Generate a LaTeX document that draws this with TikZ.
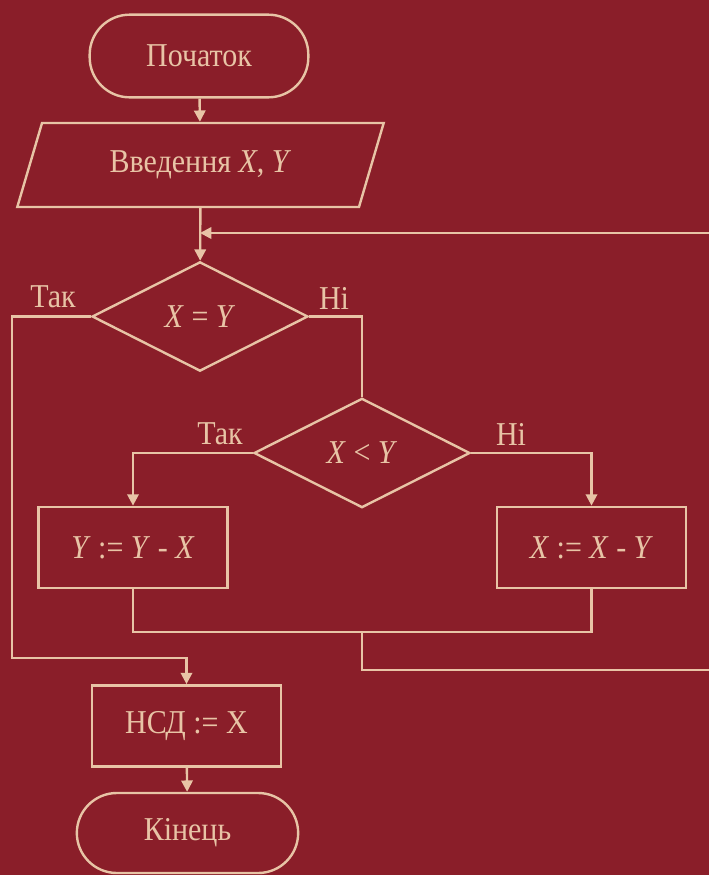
\documentclass[tikz,border=0pt]{standalone}
\usepackage{fontspec}
\setmainfont{Liberation Serif}[FakeStretch=0.9]
\usetikzlibrary{shapes.geometric,arrows.meta,calc}
\definecolor{bg}{HTML}{8A1E29}
\definecolor{ink}{HTML}{E8C4A6}
\begin{document}
\begin{tikzpicture}[x=0.75pt,y=-0.75pt,
  every node/.style={text=ink, font=\fontsize{25}{28}\selectfont},
  flow/.style={draw=ink, line width=1.8pt},
  conn/.style={draw=ink, line width=1.8pt},
  arr/.style={conn, -{Triangle[length=8.5pt,width=8.5pt]}},
  term/.style={flow, rectangle, rounded corners=30pt, minimum width=164pt, minimum height=62pt, inner sep=0pt},
  iobox/.style={flow, trapezium, trapezium left angle=63.4, trapezium right angle=116.6, trapezium stretches=true, minimum width=275pt, minimum height=63pt, inner sep=0pt},
  decide/.style={flow, diamond, inner sep=0pt, minimum width=162pt, minimum height=82pt},
  procbox/.style={flow, rectangle, inner sep=0pt, minimum width=142pt, minimum height=61pt},
  lbl/.style={inner sep=0pt}
]
\fill[bg] (0,0) rectangle (709,875);
\useasboundingbox (0,0) rectangle (709,875);

\node[term] (start) at (199,56) {Початок};
\node[iobox] (input) at (200.5,165) {Введення \textit{X}, \textit{Y}};
\coordinate (merge) at (200,233);
\node[decide] (dec1) at (200,316.5) {\textit{X} = \textit{Y}};
\node[decide] (dec2) at (362,453) {\textit{X} < \textit{Y}};
\node[procbox] (boxY) at (133,547.5) {\textit{Y} := \textit{Y} - \textit{X}};
\node[procbox] (boxX) at (591.5,547.5) {\textit{X} := \textit{X} - \textit{Y}};
\coordinate (join) at (362,632);
\coordinate (rb) at (713,670);
\coordinate (lc) at (12,658);
\node[procbox] (gcd) at (186.5,726) {НСД := X};
\node[term, minimum width=166pt, minimum height=60pt] (end) at (187.5,833) {Кінець};

\node[lbl] (t1) at (53,297) {Так};
\node[lbl] (n1) at (334,298) {Ні};
\node[lbl] (t2) at (220,434) {Так};
\node[lbl] (n2) at (511,434) {Ні};

\draw[arr] (start) -- (input);
\draw[arr] (input) -- (dec1);
\draw[arr] (join) |- (rb) |- (merge);
\draw[arr] (dec1.west) -| (lc) -| (gcd.north);
\draw[conn] (dec1.east) -| (dec2.north);
\draw[arr] (dec2.west) -| (boxY.north);
\draw[arr] (dec2.east) -| (boxX.north);
\draw[conn] (boxY.south) |- (join) -| (boxX.south);
\draw[arr] (gcd) -- (end);
\end{tikzpicture}
\end{document}
